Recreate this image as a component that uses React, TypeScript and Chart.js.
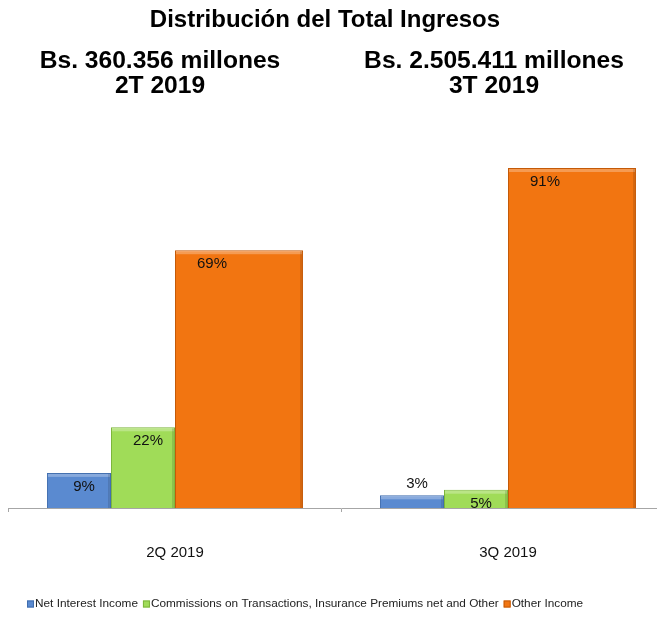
import React, { useEffect, useRef } from 'react';
import { Chart, registerables } from 'chart.js';

Chart.register(...registerables);

const categories = ['2Q 2019', '3Q 2019'];
const seriesNames = [
  'Net Interest Income',
  'Commissions on Transactions, Insurance Premiums net and Other',
  'Other Income',
];
const netInterestIncome = [9.4, 3.4];
const commissions = [21.6, 4.9];
const otherIncome = [69.0, 91.0];
const titleText = 'Distribución del Total Ingresos';
const periodTotals = ['Bs. 360.356 millones', 'Bs. 2.505.411 millones'];
const periodNames = ['2T 2019', '3T 2019'];

const FILL = ['#5A8AD0', '#A0DC58', '#F27511'];
const EDGE = ['#3F6DAE', '#7DB53C', '#C45A08'];
const FONT = 'Arial, "Liberation Sans", sans-serif';

const widenPlugin = {
  id: 'widenOther',
  afterDatasetsUpdate(chart: any) {
    const meta = chart.getDatasetMeta(2);
    meta.data.forEach((el: any) => {
      if (el.$origX === undefined) {
        el.$origX = el.x;
        el.x = el.x + el.width / 2;
        el.width = el.width * 2;
      }
    });
  },
};

const decorPlugin = {
  id: 'decor',
  afterDatasetsDraw(chart: any) {
    const ctx = chart.ctx;
    ctx.save();
    for (let d = 0; d < 3; d++) {
      const meta = chart.getDatasetMeta(d);
      meta.data.forEach((el: any, i: number) => {
        const left = el.x - el.width / 2;
        const top = el.y;
        const h = el.base - el.y;
        ctx.fillStyle = 'rgba(255,255,255,0.28)';
        ctx.fillRect(left + 1, top + 1, el.width - 2, 3);
        ctx.fillStyle = 'rgba(0,0,0,0.12)';
        ctx.fillRect(left + el.width - 3, top + 1, 2, h - 1);
        const v = chart.data.datasets[d].data[i];
        const lx = (d === 2 ? el.$origX : el.x) + 5;
        const ly = v < 4 ? top - 11 : top + 14;
        ctx.fillStyle = '#111';
        ctx.font = `15px ${FONT}`;
        ctx.textAlign = 'center';
        ctx.textBaseline = 'middle';
        ctx.fillText(`${Math.round(v)}%`, lx, ly);
      });
    }
    ctx.restore();
  },
  afterDraw(chart: any) {
    const ctx = chart.ctx;
    ctx.save();
    ctx.fillStyle = '#000';
    ctx.textAlign = 'center';
    ctx.textBaseline = 'middle';
    ctx.font = `bold 24px ${FONT}`;
    ctx.fillText(titleText, 325, 20);
    ctx.font = `bold 24.6px ${FONT}`;
    const xs = [160, 494];
    periodTotals.forEach((t, i) => {
      ctx.fillText(t, xs[i], 61);
      ctx.fillText(periodNames[i], xs[i], 86);
    });
    ctx.font = `11.8px ${FONT}`;
    ctx.textAlign = 'left';
    let x = 27;
    const y = 604;
    for (let d = 0; d < 3; d++) {
      ctx.fillStyle = FILL[d];
      ctx.fillRect(x, y - 3.5, 7, 7);
      ctx.strokeStyle = EDGE[d];
      ctx.lineWidth = 1;
      ctx.strokeRect(x + 0.5, y - 3, 6, 6);
      x += 8;
      ctx.fillStyle = '#222';
      const label = chart.data.datasets[d].label;
      ctx.fillText(label, x, y);
      x += ctx.measureText(label).width + 5;
    }
    ctx.restore();
  },
};

export default function App() {
  const ref = useRef<HTMLCanvasElement>(null);
  useEffect(() => {
    if (!ref.current) return;
    const mk = (label: string, data: (number | null)[], i: number) => ({
      label,
      data,
      backgroundColor: FILL[i],
      borderColor: EDGE[i],
      borderWidth: 1,
      borderSkipped: 'bottom' as const,
    });
    const chart = new Chart(ref.current, {
      type: 'bar',
      data: {
        labels: categories,
        datasets: [
          mk(seriesNames[0], netInterestIncome, 0),
          mk(seriesNames[1], commissions, 1),
          mk(seriesNames[2], otherIncome, 2),
          { label: '', data: [null, null], backgroundColor: 'transparent' },
        ],
      },
      options: {
        responsive: false,
        animation: false,
        events: [],
        categoryPercentage: 0.769,
        barPercentage: 1,
        layout: { padding: { left: 8.5, right: 25.5, top: 134.4, bottom: 25 } },
        plugins: {
          legend: { display: false },
          title: { display: false },
          tooltip: { enabled: false },
        },
        scales: {
          y: { display: false, min: 0, max: 100 },
          x: {
            border: { display: true, color: '#A6A6A6', width: 1 },
            grid: {
              display: true,
              offset: true,
              drawOnChartArea: false,
              drawTicks: true,
              tickLength: 4,
              color: '#A6A6A6',
            },
            ticks: {
              color: '#111',
              padding: 32,
              font: { family: FONT, size: 15 },
            },
          },
        },
      },
      plugins: [widenPlugin, decorPlugin],
    });
    return () => chart.destroy();
  }, []);
  return (
    <div
      style={{
        position: 'fixed',
        left: 0,
        top: 0,
        width: 657,
        height: 619,
        overflow: 'hidden',
        background: '#fff',
      }}
    >
      <canvas ref={ref} width={700} height={619} style={{ width: 700, height: 619 }} />
    </div>
  );
}
